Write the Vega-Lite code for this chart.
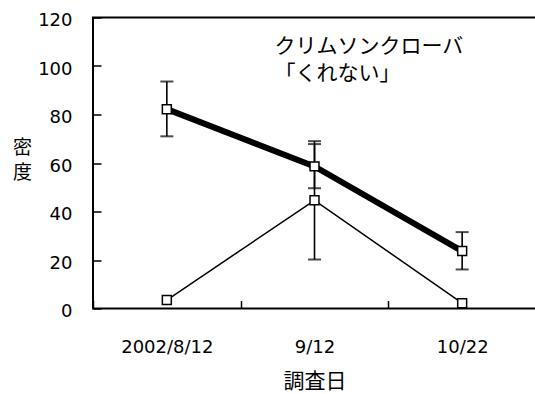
{
  "$schema": "https://vega.github.io/schema/vega-lite/v6.json",
  "autosize": "none",
  "width": 443,
  "height": 291,
  "padding": {"left": 93, "top": 17.5, "right": 0, "bottom": 85.5},
  "background": "white",
  "config": {
    "view": {"stroke": "black", "strokeWidth": 2},
    "axis": {
      "domain": false,
      "offset": -8,
      "tickColor": "black",
      "tickWidth": 1.5,
      "tickSize": 8,
      "grid": false,
      "labelFont": "DejaVu Sans",
      "labelFontSize": 18,
      "labelColor": "black",
      "titleFont": "Noto Sans CJK JP",
      "titleFontWeight": "normal",
      "titleColor": "black"
    }
  },
  "datasets": {
    "density": [
      {"date": "2002/8/12", "series": "A", "mean": 82.2, "lo": 71.0, "hi": 93.6},
      {"date": "9/12", "series": "A", "mean": 58.6, "lo": 49.6, "hi": 67.8},
      {"date": "10/22", "series": "A", "mean": 23.7, "lo": 16.1, "hi": 31.5},
      {"date": "2002/8/12", "series": "B", "mean": 3.5, "lo": null, "hi": null},
      {"date": "9/12", "series": "B", "mean": 44.6, "lo": 20.2, "hi": 69.0},
      {"date": "10/22", "series": "B", "mean": 2.2, "lo": null, "hi": null}
    ],
    "notes": [
      {"date": "9/12", "y": 108, "label": "クリムソンクローバ"},
      {"date": "9/12", "y": 96.5, "label": "「くれない」"}
    ]
  },
  "encoding": {
    "x": {
      "field": "date",
      "type": "nominal",
      "sort": ["2002/8/12", "9/12", "10/22"],
      "scale": {"type": "band", "paddingInner": 0, "paddingOuter": 0},
      "axis": {
        "tickBand": "extent",
        "labelAngle": 0,
        "labelPadding": 30,
        "title": "調査日",
        "titleFontSize": 21,
        "titlePadding": 14
      }
    }
  },
  "layer": [
    {
      "data": {"name": "density"},
      "transform": [{"filter": "datum.lo != null"}],
      "mark": {"type": "rule", "color": "black", "strokeWidth": 1.6},
      "encoding": {
        "y": {
          "field": "lo",
          "type": "quantitative",
          "scale": {"domain": [0, 120], "nice": false, "zero": true},
          "axis": {
            "values": [0, 20, 40, 60, 80, 100, 120],
            "labelPadding": 21,
            "labelOffset": 3,
            "title": ["密", "度"],
            "titleFontSize": 19,
            "titleAngle": 0,
            "titleAlign": "center",
            "titleBaseline": "middle",
            "titleLineHeight": 25,
            "titleX": -79,
            "titleY": 130
          }
        },
        "y2": {"field": "hi"}
      }
    },
    {
      "data": {"name": "density"},
      "transform": [{"filter": "datum.lo != null"}],
      "mark": {"type": "tick", "color": "black", "size": 13, "thickness": 2, "orient": "horizontal"},
      "encoding": {"y": {"field": "lo", "type": "quantitative"}}
    },
    {
      "data": {"name": "density"},
      "transform": [{"filter": "datum.hi != null"}],
      "mark": {"type": "tick", "color": "black", "size": 13, "thickness": 2, "orient": "horizontal"},
      "encoding": {"y": {"field": "hi", "type": "quantitative"}}
    },
    {
      "data": {"name": "density"},
      "transform": [{"filter": "datum.series == 'A'"}],
      "mark": {"type": "line", "color": "black", "strokeWidth": 6},
      "encoding": {"y": {"field": "mean", "type": "quantitative"}}
    },
    {
      "data": {"name": "density"},
      "transform": [{"filter": "datum.series == 'B'"}],
      "mark": {"type": "line", "color": "black", "strokeWidth": 1.5},
      "encoding": {"y": {"field": "mean", "type": "quantitative"}}
    },
    {
      "data": {"name": "density"},
      "mark": {"type": "point", "shape": "square", "filled": true, "fill": "white", "stroke": "black", "strokeWidth": 1.5, "size": 80, "opacity": 1},
      "encoding": {"y": {"field": "mean", "type": "quantitative"}}
    },
    {
      "data": {"name": "notes"},
      "mark": {"type": "text", "align": "left", "baseline": "middle", "dx": -40, "font": "Noto Sans CJK JP", "fontSize": 21, "color": "black"},
      "encoding": {
        "y": {"field": "y", "type": "quantitative"},
        "text": {"field": "label"}
      }
    }
  ]
}
